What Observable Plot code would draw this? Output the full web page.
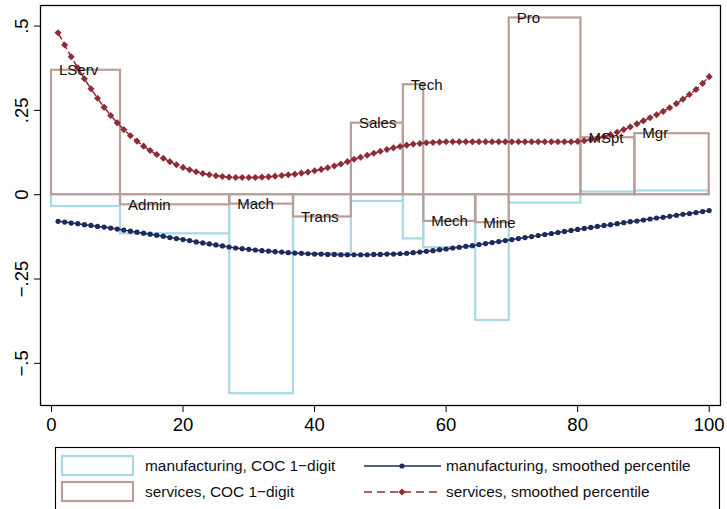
<!DOCTYPE html>
<html>
<head>
<meta charset="utf-8">
<script src="https://cdn.jsdelivr.net/npm/d3@7"></script>
<script src="https://cdn.jsdelivr.net/npm/@observablehq/plot@0.6"></script>
<style>
  body { margin: 0; background: #fff; }
  #chart { width: 727px; font-family: "Liberation Sans", Arial, Helvetica, sans-serif; }
  #chart svg { display: block; }
</style>
</head>
<body>
<div id="chart"></div>
<script>
// Occupation groups (COC 1-digit), their percentile spans and mean gaps
const occupations = ["LServ", "Admin", "Mach", "Trans", "Sales", "Tech", "Mech", "Mine", "Pro", "MSpt", "Mgr"];
const binStart = [0, 10.5, 27.1, 36.8, 45.6, 53.5, 56.6, 64.5, 69.6, 80.5, 88.7];
const binEnd = [10.5, 27.1, 36.8, 45.6, 53.5, 56.6, 64.5, 69.6, 80.5, 88.7, 100];
const servicesGap = [0.369, -0.030, -0.028, -0.066, 0.212, 0.326, -0.079, -0.083, 0.524, 0.169, 0.181];
const manufacturingGap = [-0.035, -0.116, -0.590, -0.175, -0.020, -0.131, -0.157, -0.373, -0.025, 0.008, 0.011];

// Smoothed values by percentile 1..100
const percentiles = d3.range(1, 101);
const manufacturingSmooth = [
  -0.079, -0.081, -0.084, -0.086, -0.089, -0.091, -0.094, -0.096, -0.099, -0.102,
  -0.105, -0.108, -0.111, -0.114, -0.117, -0.120, -0.123, -0.127, -0.130, -0.133,
  -0.136, -0.140, -0.143, -0.146, -0.149, -0.152, -0.155, -0.158, -0.160, -0.162,
  -0.164, -0.166, -0.167, -0.169, -0.170, -0.172, -0.173, -0.174, -0.175, -0.176,
  -0.176, -0.177, -0.177, -0.178, -0.178, -0.178, -0.178, -0.178, -0.177, -0.177,
  -0.176, -0.176, -0.175, -0.174, -0.172, -0.170, -0.168, -0.166, -0.163, -0.161,
  -0.158, -0.156, -0.153, -0.151, -0.148, -0.145, -0.142, -0.139, -0.136, -0.133,
  -0.130, -0.127, -0.124, -0.121, -0.118, -0.115, -0.112, -0.109, -0.106, -0.103,
  -0.100, -0.097, -0.094, -0.091, -0.089, -0.086, -0.083, -0.080, -0.078, -0.075,
  -0.072, -0.069, -0.067, -0.064, -0.061, -0.058, -0.056, -0.053, -0.050, -0.047
];
const servicesSmooth = [
  0.480, 0.444, 0.409, 0.376, 0.344, 0.314, 0.286, 0.259, 0.235, 0.213,
  0.193, 0.175, 0.159, 0.144, 0.131, 0.119, 0.108, 0.098, 0.089, 0.081,
  0.074, 0.068, 0.063, 0.059, 0.056, 0.054, 0.052, 0.051, 0.051, 0.051,
  0.051, 0.052, 0.053, 0.055, 0.057, 0.059, 0.061, 0.064, 0.067, 0.071,
  0.075, 0.080, 0.085, 0.091, 0.098, 0.105, 0.111, 0.117, 0.123, 0.129,
  0.134, 0.139, 0.143, 0.147, 0.150, 0.152, 0.154, 0.155, 0.156, 0.157,
  0.157, 0.157, 0.157, 0.157, 0.157, 0.157, 0.157, 0.157, 0.157, 0.157,
  0.157, 0.157, 0.157, 0.157, 0.157, 0.157, 0.157, 0.157, 0.157, 0.158,
  0.160, 0.163, 0.167, 0.172, 0.178, 0.185, 0.193, 0.201, 0.210, 0.219,
  0.228, 0.237, 0.247, 0.258, 0.270, 0.283, 0.297, 0.312, 0.330, 0.350
];

const xTicks = [0, 20, 40, 60, 80, 100];
const yTicks = [-0.5, -0.25, 0, 0.25, 0.5];
const yTickLabels = ["\u2212.5", "\u2212.25", "0", ".25", ".5"];

const legendLabels = [
  "manufacturing, COC 1\u2212digit",
  "services, COC 1\u2212digit",
  "manufacturing, smoothed percentile",
  "services, smoothed percentile"
];

const colors = {
  manufacturingBar: "#a9d9e6",
  servicesBar: "#bc9e98",
  manufacturingLine: "#1c2b5c",
  servicesLine: "#8e2c37"
};

// Tables built from the arrays above
const bins = occupations.map((occ, i) => ({
  occ, x1: binStart[i], x2: binEnd[i], serv: servicesGap[i], mfg: manufacturingGap[i]
}));
const smooth = percentiles.map((p, i) => ({
  p, mfg: manufacturingSmooth[i], serv: servicesSmooth[i]
}));
const yLabelOf = new Map(yTicks.map((t, i) => [t, yTickLabels[i]]));

const fontFamily = '"Liberation Sans", Arial, Helvetica, sans-serif';

const chart = Plot.plot({
  width: 727,
  height: 440,
  marginLeft: 40,
  marginRight: 7,
  marginTop: 5,
  marginBottom: 35,
  x: { domain: [-1.67, 101.72] },
  y: { domain: [-0.625, 0.561] },
  style: { fontFamily, background: "#fff", color: "#000", overflow: "visible" },
  marks: [
    Plot.rectY(bins, { x1: "x1", x2: "x2", y1: 0, y2: "mfg", fill: "none", stroke: colors.manufacturingBar, strokeWidth: 2.2 }),
    Plot.rectY(bins, { x1: "x1", x2: "x2", y1: 0, y2: "serv", fill: "none", stroke: colors.servicesBar, strokeWidth: 2.2 }),
    Plot.line(smooth, { x: "p", y: "mfg", stroke: colors.manufacturingLine, strokeWidth: 1.5 }),
    Plot.dot(smooth, { x: "p", y: "mfg", r: 2.6, fill: colors.manufacturingLine, stroke: "none" }),
    Plot.line(smooth, { x: "p", y: "serv", stroke: colors.servicesLine, strokeWidth: 1.5, strokeDasharray: "7,4" }),
    Plot.dot(smooth, { x: "p", y: "serv", r: 3.2, symbol: "diamond2", fill: colors.servicesLine, stroke: "none" }),
    Plot.text(bins, { x: "x1", y: "serv", text: "occ", textAnchor: "start", dx: 7.5, fontSize: 15, fill: "#111" }),
    Plot.frame({ stroke: "#000", strokeWidth: 1.3 }),
    Plot.axisX({ ticks: xTicks, tickSize: 7, tickPadding: 5, fontSize: 18.5, label: null }),
    Plot.axisY({ ticks: yTicks, tickFormat: d => yLabelOf.get(d), tickRotate: -90, tickSize: 6, tickPadding: 7, fontSize: 18.5, label: null })
  ]
});

document.getElementById("chart").appendChild(chart);

// Legend below the plot
const legend = d3.create("svg")
  .attr("width", 727)
  .attr("height", 69)
  .style("font-family", fontFamily)
  .style("display", "block");

legend.append("rect")
  .attr("x", 55.5).attr("y", 7.5).attr("width", 664).attr("height", 80)
  .attr("fill", "#fff").attr("stroke", "#000").attr("stroke-width", 1.1);

const rowY = [26, 52];

// box swatches
[colors.manufacturingBar, colors.servicesBar].forEach((c, i) => {
  legend.append("rect")
    .attr("x", 62).attr("y", rowY[i] - 10).attr("width", 71).attr("height", 19)
    .attr("fill", "#fff").attr("stroke", c).attr("stroke-width", 2.2);
  legend.append("text")
    .attr("x", 145).attr("y", rowY[i]).attr("dy", "0.35em")
    .attr("font-size", 15.4).attr("fill", "#111")
    .text(legendLabels[i]);
});

// line swatches
legend.append("line")
  .attr("x1", 364).attr("x2", 441).attr("y1", rowY[0]).attr("y2", rowY[0])
  .attr("stroke", colors.manufacturingLine).attr("stroke-width", 1.5);
legend.append("circle")
  .attr("cx", 402).attr("cy", rowY[0]).attr("r", 2.6)
  .attr("fill", colors.manufacturingLine);
legend.append("line")
  .attr("x1", 364).attr("x2", 441).attr("y1", rowY[1]).attr("y2", rowY[1])
  .attr("stroke", colors.servicesLine).attr("stroke-width", 1.5)
  .attr("stroke-dasharray", "8,5");
legend.append("path")
  .attr("d", d3.symbol(d3.symbolDiamond2, Math.PI * 3.2 * 3.2)())
  .attr("transform", `translate(402,${rowY[1]})`)
  .attr("fill", colors.servicesLine);
[2, 3].forEach((k, i) => {
  legend.append("text")
    .attr("x", 446).attr("y", rowY[i]).attr("dy", "0.35em")
    .attr("font-size", 15.4).attr("fill", "#111")
    .text(legendLabels[k]);
});

document.getElementById("chart").appendChild(legend.node());
</script>
</body>
</html>
